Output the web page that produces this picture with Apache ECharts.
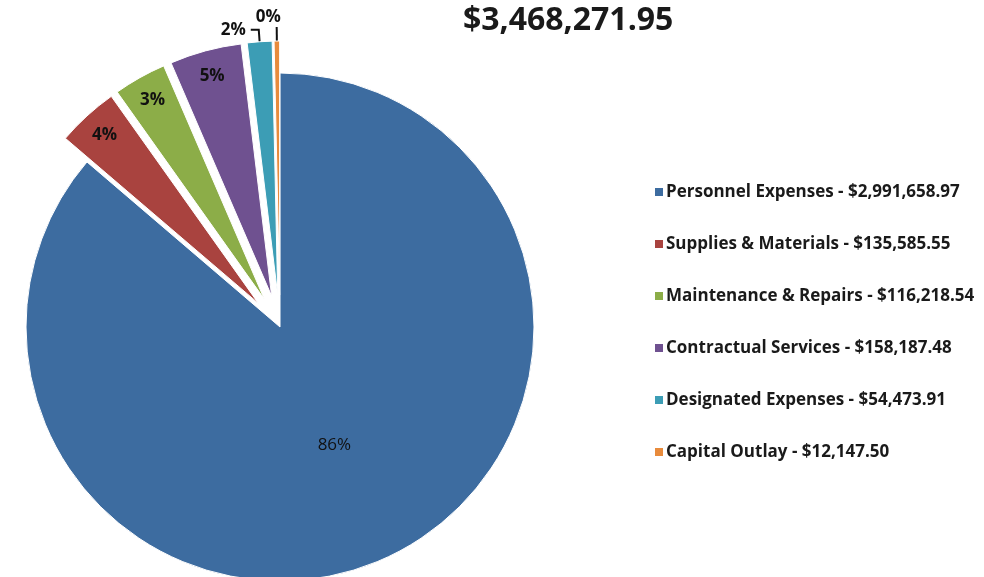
<!DOCTYPE html>
<html>
<head>
<meta charset="utf-8">
<script src="https://cdn.jsdelivr.net/npm/echarts@6/dist/echarts.min.js"></script>
<style>
  html, body { margin: 0; padding: 0; background: #ffffff; }
  #chart { width: 984px; height: 577px; }
</style>
</head>
<body>
<div id="chart"></div>
<script>
// budget categories, dollar amounts
var categories = ["Personnel Expenses", "Supplies & Materials", "Maintenance & Repairs",
                  "Contractual Services", "Designated Expenses", "Capital Outlay"];
var amounts = [2991658.97, 135585.55, 116218.54, 158187.48, 54473.91, 12147.50];
var colors = ["#3D6CA0", "#A9433F", "#8CAD48", "#6F5190", "#3C9DB5", "#E88B3C"];
var exploded = [false, true, true, true, true, true];
var totalLabel = "$3,468,271.95";

var FONT = "'Open Sans', 'Liberation Sans', sans-serif";

function money(v) {
    var parts = v.toFixed(2).split(".");
    return "$" + parts[0].replace(/\B(?=(\d{3})+(?!\d))/g, ",") + "." + parts[1];
}

var amountByName = {};
for (var i = 0; i < categories.length; i++) {
    amountByName[categories[i]] = amounts[i];
}

var pctFormatter = function (p) {
    return Math.round(p.percent) + "%";
};

// main slices: only the big one gets its label here
var mainData = [];
// transparent copy, used to place the small labels near the rim
var labelData = [];
for (var i = 0; i < categories.length; i++) {
    mainData.push({
        name: categories[i],
        value: amounts[i],
        selected: exploded[i],
        itemStyle: { color: colors[i] },
        label: { show: i == 0 }
    });
    var item = {
        name: categories[i],
        value: amounts[i],
        selected: exploded[i],
        label: { show: i != 0 }
    };
    if (i == 4) {
        item.label = { show: true, position: "outside" };
        item.labelLine = { show: true, length: 12, length2: 8 };
    }
    if (i == 5) {
        // sits above its leader line
        item.label = {
            show: true, position: "outside", lineHeight: 20, padding: [0, -9, 0, 0],
            formatter: function (p) { return Math.round(p.percent) + "%\n"; }
        };
        item.labelLine = { show: true, length: 14, length2: 0 };
    }
    labelData.push(item);
}

var chart = echarts.init(document.getElementById("chart"));
chart.setOption({
    animation: false,
    color: colors,
    title: {
        text: totalLabel,
        left: 458,
        top: 0,
        textStyle: { fontFamily: FONT, fontSize: 32, fontWeight: "bold", color: "#1a1a1a" }
    },
    legend: {
        orient: "vertical",
        left: 648,
        top: 176,
        itemWidth: 10,
        itemHeight: 10,
        itemGap: 30,
        icon: "rect",
        selectedMode: false,
        data: categories,
        formatter: function (name) {
            return name + " - " + money(amountByName[name]);
        },
        textStyle: { fontFamily: FONT, fontSize: 17, fontWeight: "bold", color: "#1a1a1a", lineHeight: 22, padding: [0, 0, 0, -3] }
    },
    series: [
        {
            type: "pie",
            center: [280, 327],
            radius: [0, 254],
            startAngle: 90,
            clockwise: true,
            selectedMode: "multiple",
            selectedOffset: 32,
            avoidLabelOverlap: false,
            emphasis: { disabled: true },
            itemStyle: { borderColor: "#ffffff", borderWidth: 1 },
            label: {
                position: "inside",
                formatter: pctFormatter,
                fontFamily: FONT,
                fontSize: 17,
                color: "#111111"
            },
            labelLine: { show: false },
            data: mainData
        },
        {
            type: "pie",
            silent: true,
            center: [280, 327],
            radius: [196, 254],
            startAngle: 90,
            clockwise: true,
            selectedMode: "multiple",
            selectedOffset: 32,
            avoidLabelOverlap: false,
            emphasis: { disabled: true },
            itemStyle: { color: "rgba(0,0,0,0)", borderWidth: 0 },
            label: {
                position: "inside",
                formatter: pctFormatter,
                fontFamily: FONT,
                fontSize: 17,
                fontWeight: "bold",
                color: "#111111"
            },
            labelLine: { show: false, lineStyle: { color: "#111111", width: 2 } },
            data: labelData
        }
    ]
});
</script>
</body>
</html>
